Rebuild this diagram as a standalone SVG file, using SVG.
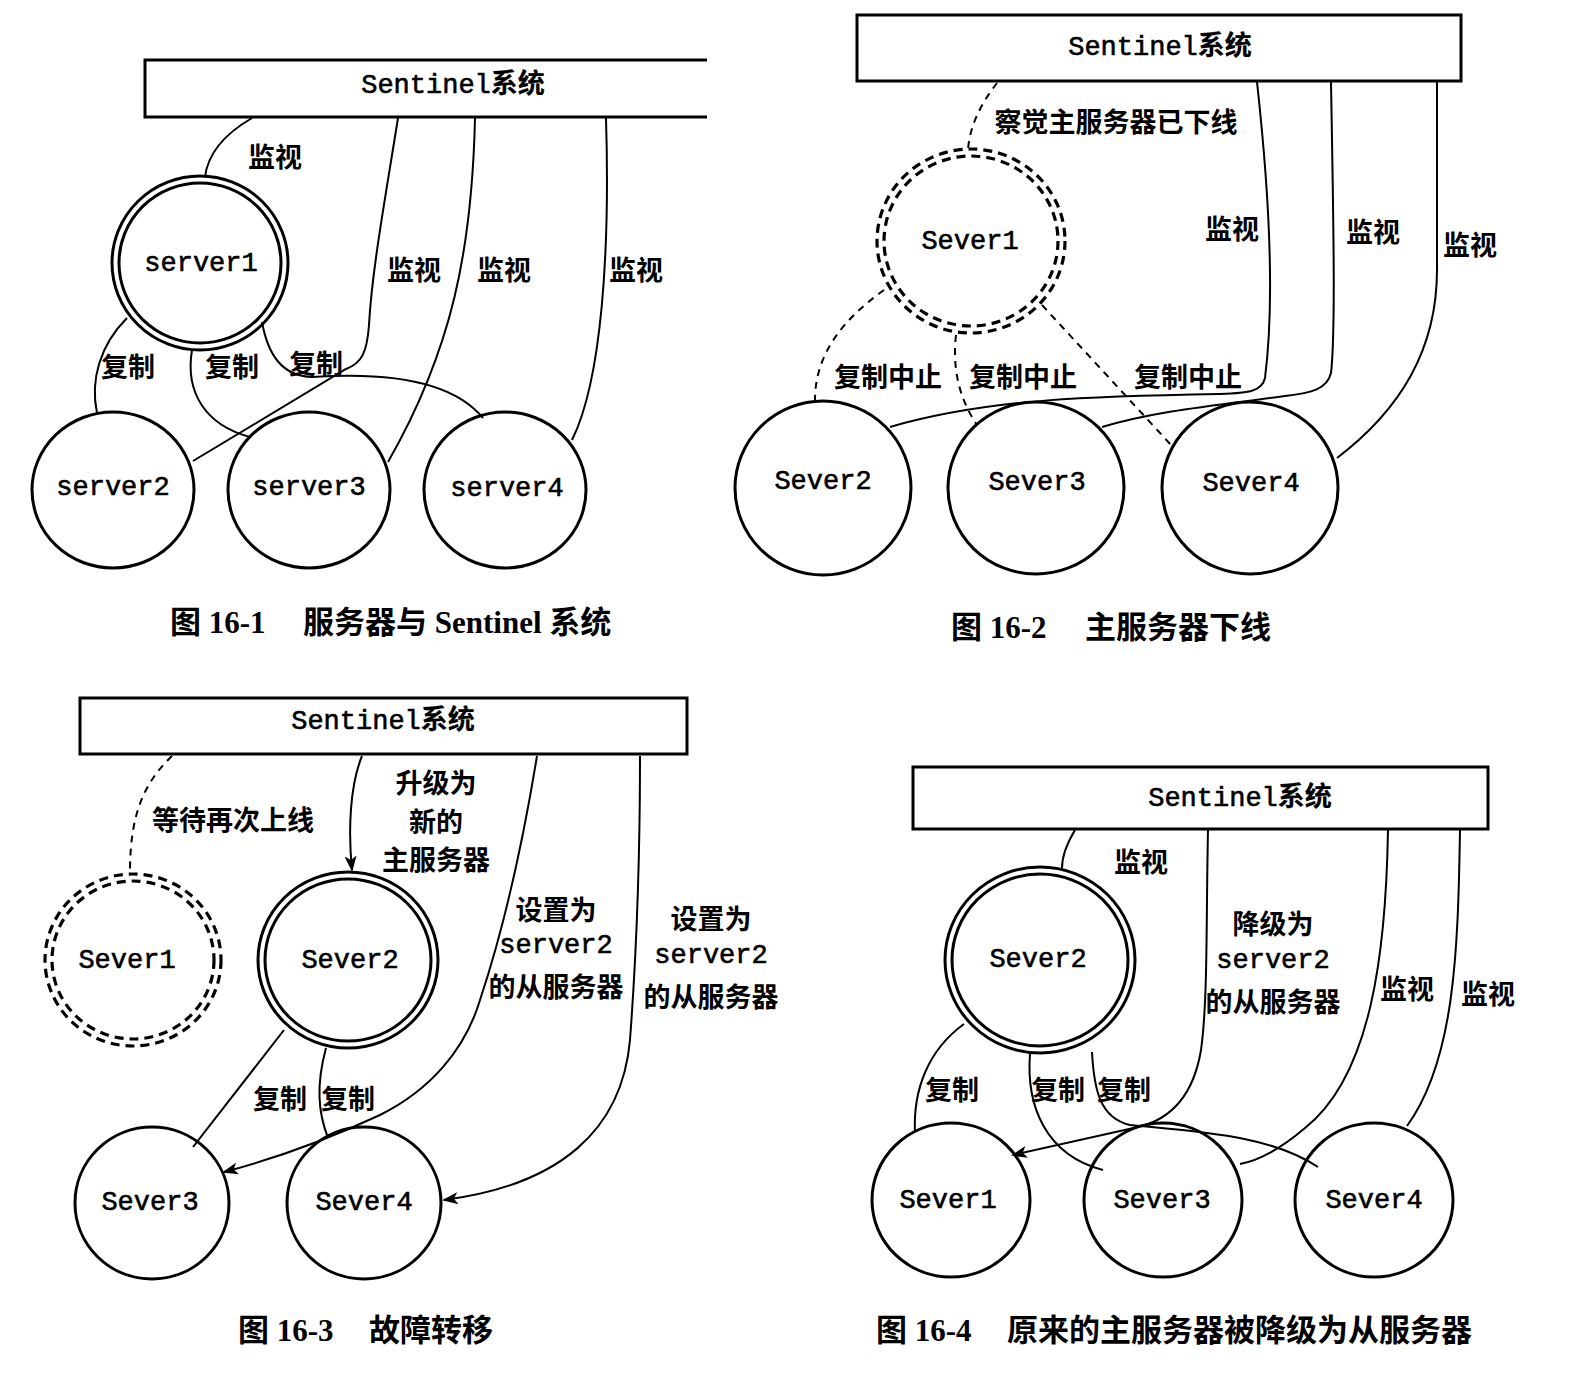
<svg xmlns="http://www.w3.org/2000/svg" width="1583" height="1389" viewBox="0 0 1583 1389">
<defs>
<marker id="arr" markerUnits="userSpaceOnUse" markerWidth="16" markerHeight="12" refX="14" refY="6" orient="auto">
<path d="M0,0 L16,6 L0,12 L4,6 Z" fill="#000"/>
</marker>
</defs>
<style>
.node{fill:none;stroke:#000;stroke-width:3}
.dnode{fill:none;stroke:#000;stroke-width:3.2;stroke-dasharray:9 6}
.box{fill:#fff;stroke:#000;stroke-width:3}
.c{fill:none;stroke:#000;stroke-width:2}
.cd{fill:none;stroke:#000;stroke-width:2;stroke-dasharray:7 6}
.mono{font-family:"Liberation Mono","Noto Sans CJK SC",monospace;font-size:27px;text-anchor:middle;dominant-baseline:central;fill:#000;stroke:#000;stroke-width:0.6}
.b{font-weight:700;stroke-width:0.2}
.lbl{font-family:"Noto Sans CJK SC",sans-serif;font-weight:700;font-size:27px;text-anchor:middle;dominant-baseline:central;fill:#000}
.cap{font-family:"Liberation Serif","Noto Sans CJK SC",serif;font-weight:700;font-size:31px;fill:#000}
</style>
<rect width="1583" height="1389" fill="#fff"/>

<!-- ===== Figure 16-1 ===== -->
<g id="f1-sentinel"><path class="box" d="M707,60 H145 V117 H707"/><text class="mono" x="453" y="86">Sentinel<tspan class="b">系统</tspan></text></g>
<g id="f1-server1"><ellipse class="node" cx="200" cy="263" rx="88" ry="87"/><ellipse class="node" cx="200" cy="263" rx="81" ry="80"/><text class="mono" x="201" y="264">server1</text></g>
<g id="f1-server2"><ellipse class="node" cx="113" cy="490" rx="81" ry="78"/><text class="mono" x="113" y="488">server2</text></g>
<g id="f1-server3"><ellipse class="node" cx="309" cy="490" rx="81" ry="78"/><text class="mono" x="309" y="488">server3</text></g>
<g id="f1-server4"><ellipse class="node" cx="505" cy="490" rx="81" ry="78"/><text class="mono" x="507" y="489">server4</text></g>
<g id="f1-connectors">
<path class="c" d="M252,118 C228,132 208,152 205,177"/>
<path class="c" d="M398,118 C385,200 372,270 369,325 C367,352 362,363 346,369 L193,461"/>
<path class="c" d="M475,118 C472,250 452,350 388,462"/>
<path class="c" d="M606,118 C610,250 602,380 572,440"/>
<path class="c" d="M127,318 C100,345 90,380 97,413"/>
<path class="c" d="M192,350 C185,392 205,425 250,437"/>
<path class="c" d="M262,322 C268,355 282,376 312,377 C385,372 452,380 483,418"/>
</g>
<g id="f1-labels">
<text class="lbl" x="275" y="155">监视</text>
<text class="lbl" x="414" y="268">监视</text>
<text class="lbl" x="504" y="268">监视</text>
<text class="lbl" x="636" y="268">监视</text>
<text class="lbl" x="128" y="365">复制</text>
<text class="lbl" x="232" y="365">复制</text>
<text class="lbl" x="316" y="362">复制</text>
</g>
<text class="cap" x="170" y="633">图 16-1</text>
<text class="cap" x="303" y="633">服务器与 Sentinel 系统</text>

<!-- ===== Figure 16-2 ===== -->
<g id="f2-sentinel"><rect class="box" x="857" y="15" width="604" height="66"/><text class="mono" x="1160" y="48">Sentinel<tspan class="b">系统</tspan></text></g>
<g id="f2-sever1"><ellipse class="dnode" cx="971" cy="241" rx="94" ry="92"/><ellipse class="dnode" cx="971" cy="241" rx="87" ry="85"/><text class="mono" x="970" y="242">Sever1</text></g>
<g id="f2-sever2"><ellipse class="node" cx="823" cy="488" rx="88" ry="87"/><text class="mono" x="823" y="482">Sever2</text></g>
<g id="f2-sever3"><ellipse class="node" cx="1036" cy="488" rx="88" ry="86"/><text class="mono" x="1037" y="483">Sever3</text></g>
<g id="f2-sever4"><ellipse class="node" cx="1250" cy="488" rx="88" ry="86"/><text class="mono" x="1251" y="484">Sever4</text></g>
<g id="f2-connectors">
<path class="cd" d="M997,83 C984,100 970,122 968,150"/>
<path class="c" d="M1257,82 C1270,200 1275,300 1265,378 C1262,391 1250,393 1220,394 C1100,396 990,398 890,427"/>
<path class="c" d="M1331,82 C1333,200 1336,330 1331,373 C1327,389 1312,393 1285,396 C1220,405 1160,410 1102,427"/>
<path class="c" d="M1437,82 L1437,270 C1437,350 1400,410 1337,458"/>
<path class="cd" d="M884,290 C842,320 815,355 815,400"/>
<path class="cd" d="M956,335 C952,370 960,400 977,425"/>
<path class="cd" d="M1042,305 L1172,446"/>
</g>
<g id="f2-labels">
<text class="lbl" x="1116" y="120">察觉主服务器已下线</text>
<text class="lbl" x="1232" y="227">监视</text>
<text class="lbl" x="1373" y="230">监视</text>
<text class="lbl" x="1470" y="243">监视</text>
<text class="lbl" x="888" y="375">复制中止</text>
<text class="lbl" x="1023" y="375">复制中止</text>
<text class="lbl" x="1188" y="375">复制中止</text>
</g>
<text class="cap" x="951" y="638">图 16-2</text>
<text class="cap" x="1085" y="638">主服务器下线</text>

<!-- ===== Figure 16-3 ===== -->
<g id="f3-sentinel"><rect class="box" x="80" y="698" width="607" height="56"/><text class="mono" x="383" y="722">Sentinel<tspan class="b">系统</tspan></text></g>
<g id="f3-sever1"><ellipse class="dnode" cx="133" cy="960" rx="88" ry="86"/><ellipse class="dnode" cx="133" cy="960" rx="81" ry="79"/><text class="mono" x="127" y="961">Sever1</text></g>
<g id="f3-sever2"><ellipse class="node" cx="348" cy="960" rx="90" ry="88"/><ellipse class="node" cx="348" cy="960" rx="83" ry="81"/><text class="mono" x="350" y="961">Sever2</text></g>
<g id="f3-sever3"><ellipse class="node" cx="152" cy="1203" rx="77" ry="76"/><text class="mono" x="150" y="1203">Sever3</text></g>
<g id="f3-sever4"><ellipse class="node" cx="364" cy="1203" rx="77" ry="76"/><text class="mono" x="364" y="1203">Sever4</text></g>
<g id="f3-connectors">
<path class="cd" d="M172,756 C145,782 130,812 130,872"/>
<path class="c" marker-end="url(#arr)" d="M362,756 C350,785 348,830 352,870"/>
<path class="c" marker-end="url(#arr)" d="M537,756 C520,860 500,940 480,1000 C465,1050 430,1090 380,1115 C320,1143 270,1160 224,1172"/>
<path class="c" marker-end="url(#arr)" d="M640,756 C640,860 636,960 630,1040 C622,1130 560,1185 444,1200"/>
<path class="c" d="M284,1030 L193,1147"/>
<path class="c" d="M326,1048 C316,1085 318,1112 328,1138"/>
</g>
<g id="f3-labels">
<text class="lbl" x="233" y="818">等待再次上线</text>
<text class="lbl" x="436" y="781">升级为</text>
<text class="lbl" x="436" y="820">新的</text>
<text class="lbl" x="436" y="858">主服务器</text>
<text class="lbl" x="556" y="908">设置为</text>
<text class="mono" x="556" y="946">server2</text>
<text class="lbl" x="556" y="985">的从服务器</text>
<text class="lbl" x="711" y="917">设置为</text>
<text class="mono" x="711" y="956">server2</text>
<text class="lbl" x="711" y="995">的从服务器</text>
<text class="lbl" x="280" y="1097">复制</text>
<text class="lbl" x="348" y="1097">复制</text>
</g>
<text class="cap" x="238" y="1341">图 16-3</text>
<text class="cap" x="369" y="1341">故障转移</text>

<!-- ===== Figure 16-4 ===== -->
<g id="f4-sentinel"><rect class="box" x="913" y="767" width="575" height="62"/><text class="mono" x="1240" y="799">Sentinel<tspan class="b">系统</tspan></text></g>
<g id="f4-sever2"><ellipse class="node" cx="1040" cy="960" rx="95" ry="93"/><ellipse class="node" cx="1040" cy="960" rx="88" ry="86"/><text class="mono" x="1038" y="960">Sever2</text></g>
<g id="f4-sever1"><ellipse class="node" cx="951" cy="1200" rx="79" ry="77"/><text class="mono" x="948" y="1201">Sever1</text></g>
<g id="f4-sever3"><ellipse class="node" cx="1163" cy="1200" rx="79" ry="77"/><text class="mono" x="1162" y="1201">Sever3</text></g>
<g id="f4-sever4"><ellipse class="node" cx="1374" cy="1200" rx="79" ry="77"/><text class="mono" x="1374" y="1201">Sever4</text></g>
<g id="f4-connectors">
<path class="c" d="M1075,830 C1066,845 1062,858 1062,868"/>
<path class="c" marker-end="url(#arr)" d="M1208,830 C1206,920 1208,1000 1201,1050 C1193,1098 1168,1120 1138,1127 L1013,1155"/>
<path class="c" d="M1388,830 C1386,950 1372,1075 1305,1128 C1285,1145 1262,1160 1240,1164"/>
<path class="c" d="M1460,830 C1458,950 1455,1060 1407,1126"/>
<path class="c" d="M964,1024 C928,1050 913,1090 915,1132"/>
<path class="c" d="M1030,1054 C1026,1105 1045,1155 1103,1170"/>
<path class="c" d="M1092,1052 C1094,1090 1100,1118 1130,1125 C1200,1132 1270,1135 1318,1167"/>
</g>
<g id="f4-labels">
<text class="lbl" x="1141" y="860">监视</text>
<text class="lbl" x="1273" y="922">降级为</text>
<text class="mono" x="1273" y="961">server2</text>
<text class="lbl" x="1273" y="1000">的从服务器</text>
<text class="lbl" x="1407" y="987">监视</text>
<text class="lbl" x="1488" y="992">监视</text>
<text class="lbl" x="952" y="1088">复制</text>
<text class="lbl" x="1058" y="1088">复制</text>
<text class="lbl" x="1124" y="1088">复制</text>
</g>
<text class="cap" x="876" y="1341">图 16-4</text>
<text class="cap" x="1007" y="1341">原来的主服务器被降级为从服务器</text>
</svg>
